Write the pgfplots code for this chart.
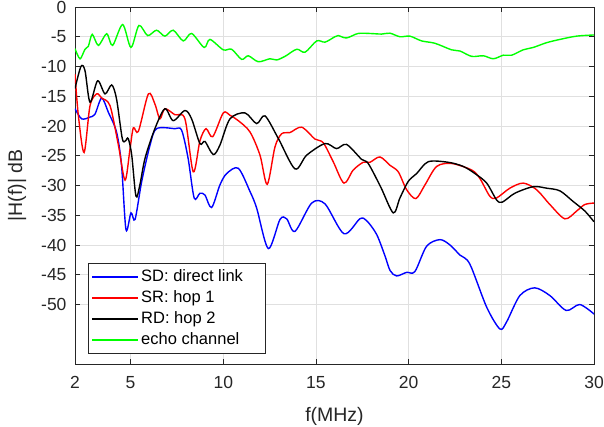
\documentclass[border=0pt]{standalone}
\usepackage{fontspec}
\setmainfont{Liberation Sans}
\usepackage{pgfplots}
\pgfplotsset{compat=1.18}
\definecolor{axgray}{RGB}{38,38,38}

\begin{document}
\begin{tikzpicture}
\begin{axis}[
  scale only axis, width=519pt, height=357pt,
  xmin=2, xmax=30, ymin=-60, ymax=0,
  xtick={2,5,10,15,20,25,30},
  ytick={-50,-45,...,0},
  /pgf/number format/assume math mode=true,
  tick label style={font=\fontsize{17.5}{21}\selectfont, text=axgray},
  xticklabel style={yshift=-9pt},
  yticklabel style={xshift=-5pt},
  label style={font=\fontsize{19.5}{23.4}\selectfont, text=axgray},
  xlabel={f(MHz)}, ylabel={|H(f)| dB},
  xlabel style={yshift=-12pt},
  ylabel style={yshift=8pt},
  grid=major, grid style={draw=black!12, line width=0.6pt},
  axis line style={draw=axgray, line width=0.7pt},
  tick style={draw=axgray, line width=0.7pt},
  major tick length=5pt, tick align=inside, tick pos=both,
  legend cell align=left,
  legend style={at={(0.025,0.028)}, anchor=south west,
    draw=axgray, line width=0.7pt, fill=white,
    font=\fontsize{16.5}{19.8}\selectfont, text=black,
    inner xsep=3pt, inner ysep=3pt, row sep=0pt,
    nodes={inner ysep=2.5pt, inner xsep=2.5pt, text height=12.5pt, text depth=3.5pt}},
  legend image code/.code={\draw[#1, line width=1.4pt] (0pt,0pt) -- (46pt,0pt);},
  every axis plot/.append style={line width=1.4pt, smooth, tension=0.5},
]
% SD: direct link
\addplot[blue] coordinates {
(2.0,-17.1) (2.36,-18.8) (2.81,-18.5) (3.08,-18.0) (3.44,-15.3) (3.8,-17.7)
(4.24,-21.0) (4.51,-26.6) (4.75,-37.4) (5.02,-34.6) (5.24,-35.7) (5.6,-29.3)
(6.05,-23.2) (6.4,-20.45) (7.39,-20.45) (7.75,-20.7) (8.1,-25.4) (8.43,-32.1)
(8.74,-31.3) (9.01,-31.6) (9.37,-33.7) (9.82,-29.9) (10.18,-28.0) (10.81,-27.1)
(11.44,-31.0) (11.8,-33.8) (12.43,-40.6) (13.06,-35.7) (13.42,-35.6) (13.87,-37.7)
(14.77,-32.95) (15.49,-33.1) (16.51,-38.1) (17.37,-35.6) (17.73,-35.9) (18.27,-38.2)
(18.72,-41.8) (19.0,-44.3) (19.35,-45.2) (19.89,-44.6) (20.34,-44.45) (20.97,-40.2)
(21.69,-39.1) (22.23,-40.0) (22.77,-41.7) (23.3,-43.2) (24.21,-50.45) (24.92,-54.1)
(25.28,-52.95) (26.0,-48.5) (26.8,-47.2) (27.62,-48.5) (28.5,-51.0) (29.23,-50.0)
(30.0,-51.6)
};
\addlegendentry{SD: direct link\hspace*{17pt}}
% SR: hop 1
\addplot[red] coordinates {
(2.0,-11.3) (2.18,-18.2) (2.49,-24.45) (2.81,-16.6) (3.17,-14.6) (3.44,-15.3)
(3.89,-16.6) (4.34,-23.2) (4.7,-29.1) (4.97,-23.8) (5.15,-20.3) (5.42,-20.9)
(5.96,-14.6) (6.31,-16.3) (6.58,-18.8) (6.85,-17.1) (7.39,-18.1) (7.93,-18.8)
(8.38,-27.7) (8.74,-22.5) (9.07,-20.45) (9.43,-21.8) (10.0,-17.8) (10.36,-18.2)
(10.81,-19.1) (11.44,-21.0) (11.98,-24.9) (12.37,-29.8) (12.79,-23.5) (13.15,-21.3)
(13.6,-21.1) (14.23,-20.2) (14.95,-22.2) (15.39,-22.8) (15.93,-26.0) (16.51,-29.6)
(17.01,-27.4) (17.55,-26.1) (17.91,-26.1) (18.45,-25.2) (18.99,-26.6) (19.44,-27.7)
(19.89,-30.7) (20.39,-32.2) (20.88,-29.9) (21.51,-26.8) (22.32,-26.3) (23.4,-27.4)
(23.84,-28.8) (24.38,-31.8) (24.74,-32.1) (25.46,-30.45) (26.18,-29.6) (26.9,-30.7)
(27.62,-33.2) (28.43,-35.6) (29.06,-34.3) (29.5,-33.2) (30.0,-32.95)
};
\addlegendentry{SR: hop 1}
% RD: hop 2
\addplot[black] coordinates {
(2.0,-13.7) (2.32,-10.0) (2.54,-10.7) (2.81,-16.0) (3.22,-12.4) (3.62,-14.6)
(3.98,-13.1) (4.24,-15.45) (4.55,-22.1) (4.72,-22.5) (4.87,-22.1) (5.06,-24.9)
(5.29,-31.8) (5.5,-29.9) (5.78,-25.4) (6.31,-20.45) (6.85,-17.1) (7.3,-19.1)
(7.93,-17.4) (8.29,-18.8) (8.74,-22.95) (9.01,-22.6) (9.46,-24.8) (9.82,-23.2)
(10.36,-18.8) (11.17,-17.8) (11.8,-19.6) (12.25,-18.3) (12.97,-22.1) (13.87,-27.2)
(14.5,-24.9) (15.49,-22.95) (16.11,-23.8) (16.65,-23.1) (17.46,-25.6) (17.82,-26.3)
(18.5,-30.3) (19.17,-34.6) (19.53,-32.1) (19.98,-29.3) (20.43,-28.0) (21.06,-26.0)
(22.14,-26.1) (22.95,-26.8) (23.58,-28.0) (24.21,-29.6) (24.74,-32.4) (25.05,-32.8)
(25.73,-31.3) (26.72,-30.2) (27.44,-30.45) (28.16,-30.9) (28.88,-32.7) (29.51,-34.3)
(30.0,-36.1)
};
\addlegendentry{RD: hop 2}
% echo channel
\addplot[green] coordinates {
(2.0,-7.0) (2.27,-8.7) (2.54,-7.1) (2.72,-6.6) (2.93,-4.6) (3.26,-6.45)
(3.71,-4.5) (4.03,-6.45) (4.57,-2.95) (5.02,-6.8) (5.45,-3.1) (5.92,-4.8)
(6.4,-3.9) (6.85,-4.9) (7.3,-3.9) (7.84,-5.7) (8.29,-4.45) (8.97,-6.8)
(9.28,-5.45) (10.0,-7.2) (10.45,-7.1) (10.99,-8.8) (11.35,-8.2) (11.89,-9.2)
(12.52,-8.7) (12.88,-8.9) (13.33,-8.3) (13.96,-7.1) (14.41,-7.6) (15.04,-5.7)
(15.49,-5.9) (16.02,-5.0) (16.2,-4.8) (16.65,-5.2) (17.27,-4.45) (17.91,-4.45)
(18.54,-4.55) (18.99,-4.4) (19.53,-5.0) (20.07,-4.9) (20.7,-5.7) (21.42,-6.1)
(22.32,-7.2) (22.77,-7.4) (23.4,-8.3) (24.03,-8.2) (24.57,-8.7) (25.11,-8.1)
(25.56,-8.1) (26.18,-7.2) (26.72,-6.8) (27.44,-6.0) (28.16,-5.45) (29.05,-4.9)
(30.0,-4.7)
};
\addlegendentry{echo channel}
\end{axis}
\pgfresetboundingbox
\path[use as bounding box] ([shift={(-75pt,-63pt)}]current axis.south west)
  rectangle ([shift={(10pt,7pt)}]current axis.north east);
\end{tikzpicture}
\end{document}
